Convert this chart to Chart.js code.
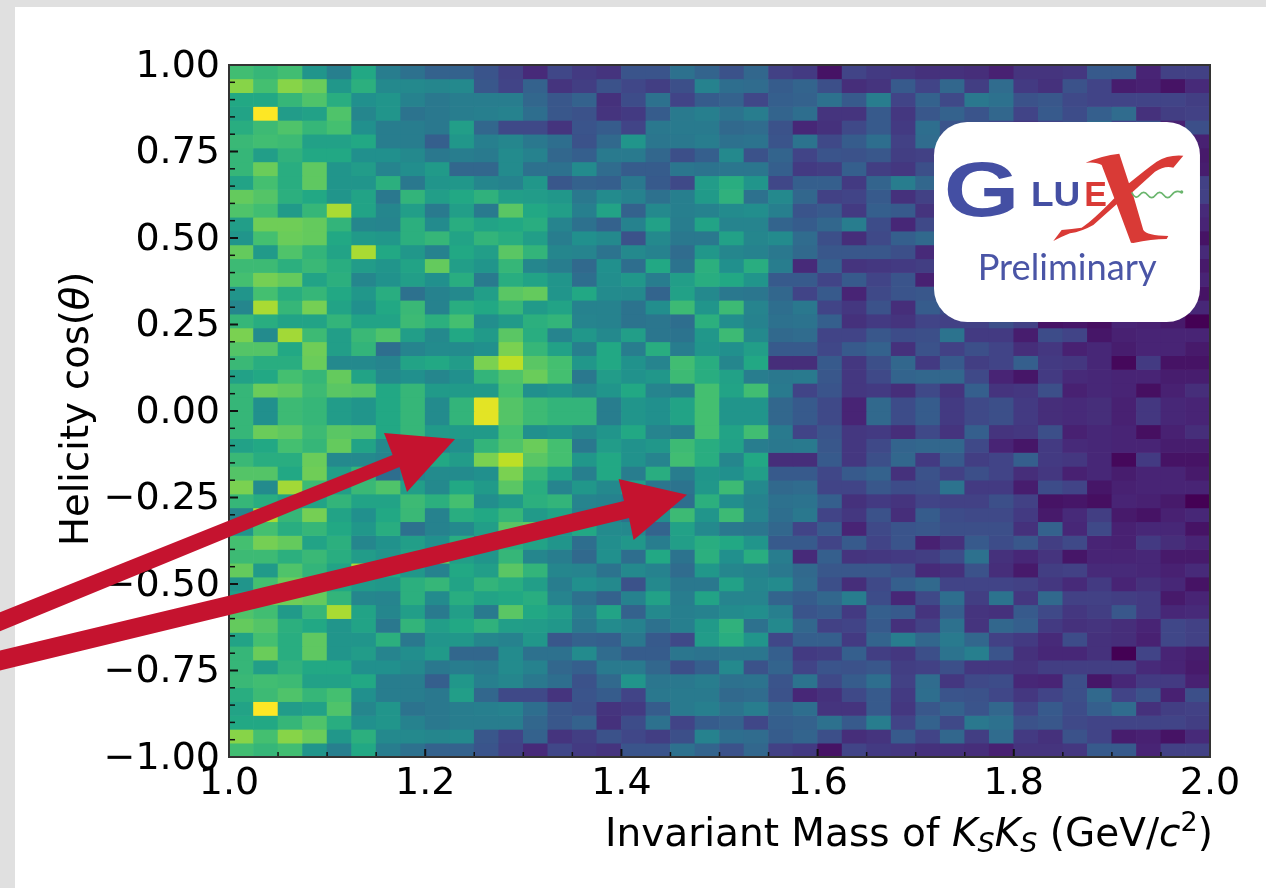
<!DOCTYPE html>
<html>
<head>
<meta charset="utf-8">
<title>Helicity cos(theta) vs KsKs mass</title>
<script src="https://cdn.jsdelivr.net/npm/chart.js@4/dist/chart.umd.min.js"></script>
<style>
    html, body { margin: 0; padding: 0; width: 1266px; height: 888px; overflow: hidden; background: #e0e0e0; }
    #sheet { position: absolute; left: 15px; top: 7px; right: 0; bottom: 0; background: #fff; }
    #plot { position: absolute; left: 0; top: 0; filter: blur(0.5px); }
    #overlay { position: absolute; left: 0; top: 0; filter: blur(0.4px); }
    .axis-text { font-family: "DejaVu Sans"; fill: #000; }
</style>
</head>
<body>
<div id="sheet"></div>
<canvas id="plot" width="1266" height="888"></canvas>
<svg id="overlay" width="1266" height="888" viewBox="0 0 1266 888">
    <text class="axis-text" font-size="39" x="605" y="846">Invariant Mass of <tspan font-style="italic">K</tspan><tspan font-style="italic" font-size="27" dy="6">S</tspan><tspan font-style="italic" dy="-6">K</tspan><tspan font-style="italic" font-size="27" dy="6">S</tspan><tspan dy="-6"> (GeV/</tspan><tspan font-style="italic">c</tspan><tspan font-size="27" dy="-15">2</tspan><tspan dy="15">)</tspan></text>
    <text class="axis-text" font-size="38.5" transform="translate(88,546) rotate(-90)">Helicity cos(<tspan font-style="italic">θ</tspan>)</text>

    <g transform="translate(925,115) scale(0.3333)">
        <rect x="27" y="21" width="798" height="600" rx="100" fill="#fff"/>
        <text transform="translate(56,302) scale(1.26,1)" font-family="Liberation Sans" font-weight="bold" font-size="232" fill="#444fa3">G</text>
        <text x="318" y="272" font-family="Liberation Sans" font-weight="bold" font-size="108" textLength="148" lengthAdjust="spacingAndGlyphs" fill="#444fa3">LU</text>
        <text x="478" y="272" font-family="Liberation Sans" font-weight="bold" font-size="108" textLength="68" lengthAdjust="spacingAndGlyphs" fill="#d93a36">E</text>
        <path fill="#d93a36" d="M482,143 Q530,122 583,116 L612,205 Q660,165 695,140 Q730,118 775,122 L745,158 Q720,150 690,170 L622,232 L655,345 Q665,362 730,363 L725,372 Q680,372 625,384 L618,383 L575,268 L505,330 Q470,350 435,355 Q410,365 385,378 L410,345 Q440,342 470,338 Q500,320 568,250 L530,150 Q515,140 482,143 Z"/>
        <path fill="none" stroke="#6ab56d" stroke-width="5" d="M620,232 Q632,256 644,240 T668,240 T692,240 T716,240 T740,240 T768,232"/>
        <circle cx="770" cy="231" r="5" fill="#6ab56d"/>
        <text x="158" y="496" font-family="Lato" font-size="108" textLength="537" lengthAdjust="spacingAndGlyphs" fill="#4a55a6">Preliminary</text>
    </g>

    <polygon fill="#c5132f" points="-2,613 392.6,455 384,433 455,439 407,492 399.5,467 -2,632"/>
    <polygon fill="#c5132f" points="-2,651 624,501 618.6,479 687,494.7 633.6,540 629,518 -2,671"/>
</svg>

<script>
// binning of the histogram
const massBinEdges = [1.000, 1.025, 1.050, 1.075, 1.100, 1.125, 1.150, 1.175, 1.200, 1.225,
    1.250, 1.275, 1.300, 1.325, 1.350, 1.375, 1.400, 1.425, 1.450, 1.475,
    1.500, 1.525, 1.550, 1.575, 1.600, 1.625, 1.650, 1.675, 1.700, 1.725,
    1.750, 1.775, 1.800, 1.825, 1.850, 1.875, 1.900, 1.925, 1.950, 1.975, 2.000];
const cosBinEdges = [1.00, 0.96, 0.92, 0.88, 0.84, 0.80, 0.76, 0.72, 0.68, 0.64,
    0.60, 0.56, 0.52, 0.48, 0.44, 0.40, 0.36, 0.32, 0.28, 0.24,
    0.20, 0.16, 0.12, 0.08, 0.04, 0.00, -0.04, -0.08, -0.12, -0.16,
    -0.20, -0.24, -0.28, -0.32, -0.36, -0.40, -0.44, -0.48, -0.52, -0.56,
    -0.60, -0.64, -0.68, -0.72, -0.76, -0.80, -0.84, -0.88, -0.92, -0.96, -1.00];

const xTicks = [1.0, 1.2, 1.4, 1.6, 1.8, 2.0];
const xTickLabels = ['1.0', '1.2', '1.4', '1.6', '1.8', '2.0'];
const xMinorTicks = [1.05, 1.1, 1.15, 1.25, 1.3, 1.35, 1.45, 1.5, 1.55, 1.65, 1.7, 1.75, 1.85, 1.9, 1.95];
const yTicks = [-1, -0.75, -0.5, -0.25, 0, 0.25, 0.5, 0.75, 1];
const yTickLabels = ['−1.00', '−0.75', '−0.50', '−0.25', '0.00', '0.25', '0.50', '0.75', '1.00'];
const yMinorTicks = [0.95, 0.9, 0.85, 0.8, 0.7, 0.65, 0.6, 0.55, 0.45, 0.4, 0.35, 0.3, 0.2, 0.15, 0.1, 0.05,
    -0.05, -0.1, -0.15, -0.2, -0.3, -0.35, -0.4, -0.45, -0.55, -0.6, -0.65, -0.7, -0.8, -0.85, -0.9, -0.95];

// bin contents, one row per cos bin from top to bottom (scale 0-100)
const binCounts = [
    [69,66,69,52,43,60,42,37,31,31,26,19,12,21,17,15,26,26,37,32,25,33,19,17,5,20,17,16,14,14,13,9,15,15,16,28,28,10,19,19],
    [82,70,82,77,53,63,47,47,46,47,27,20,31,15,18,25,21,18,24,44,36,35,29,32,24,13,15,28,20,33,18,35,17,14,25,20,8,9,5,12],
    [60,60,66,72,62,50,52,44,40,42,42,42,33,27,31,14,23,37,20,29,31,21,30,31,37,28,42,20,31,22,40,37,25,27,22,20,20,20,20,18],
    [58,100,55,57,72,46,52,38,40,42,43,44,36,27,25,15,17,29,41,43,38,42,32,36,15,15,28,16,27,31,26,33,20,28,23,30,35,14,18,19],
    [62,68,72,66,70,50,42,42,40,56,33,22,22,15,26,29,20,40,41,41,34,35,25,11,14,22,28,17,36,26,25,21,16,20,24,34,20,25,9,24],
    [67,69,68,57,57,60,42,42,30,53,43,46,40,36,25,34,52,39,40,42,37,38,26,38,22,29,36,19,35,16,22,23,11,10,24,6,11,17,17,9],
    [66,56,64,60,60,50,50,47,40,42,41,48,44,33,30,41,41,33,24,30,47,25,32,20,26,25,27,18,19,24,16,16,15,18,18,18,18,12,10,7],
    [66,77,62,75,52,55,45,49,54,33,33,48,37,37,48,35,29,29,39,38,39,39,30,17,18,30,18,16,24,38,43,26,14,11,11,14,0,20,10,8],
    [58,70,62,75,52,52,63,40,52,53,46,44,53,27,31,30,40,28,22,55,62,52,21,30,30,17,32,42,33,41,33,19,17,12,23,14,13,9,21,19],
    [76,73,63,60,52,58,40,65,56,60,64,56,55,53,40,48,44,37,43,54,64,37,47,33,19,20,28,14,19,37,15,33,30,17,14,15,13,10,21,19],
    [72,69,54,66,87,58,46,56,41,56,41,74,60,56,43,58,31,47,43,44,48,49,43,26,28,17,30,28,15,30,15,14,28,22,16,18,27,17,11,12],
    [56,78,78,76,65,46,45,63,48,62,58,60,62,45,37,31,44,57,42,58,45,45,32,29,33,42,23,11,22,36,18,38,16,34,19,19,18,17,7,10],
    [52,70,77,76,60,54,53,63,66,58,65,62,56,42,50,47,25,47,40,40,57,46,48,35,24,13,22,30,34,20,20,20,19,16,12,17,10,14,11,5],
    [76,54,72,65,58,87,60,53,44,60,56,74,65,46,45,38,47,44,35,53,46,44,40,34,27,27,27,24,12,14,25,13,7,18,19,12,12,11,9,12],
    [68,68,63,67,62,55,52,58,76,56,52,66,46,42,34,50,36,60,38,63,50,62,42,12,30,15,16,17,18,23,37,14,11,15,6,10,10,11,7,7],
    [70,79,76,58,63,46,51,56,50,62,41,62,58,52,36,49,53,42,56,62,60,52,28,28,20,28,20,26,9,14,28,23,27,18,22,10,9,17,13,10],
    [52,70,62,66,60,53,62,37,44,47,56,74,76,52,60,48,47,32,57,47,40,39,33,20,28,10,22,26,27,24,24,24,14,31,11,22,9,11,11,5],
    [46,87,66,79,58,50,60,67,44,62,60,66,54,58,44,44,38,49,68,52,68,45,36,40,20,16,25,13,29,23,22,22,17,7,12,18,7,5,9,11],
    [66,62,58,58,65,58,58,68,63,70,49,54,63,65,45,44,38,39,36,63,49,44,37,38,30,14,17,15,20,19,19,24,19,5,6,4,10,9,7,0],
    [80,48,86,68,56,67,72,56,47,60,54,74,62,45,53,47,56,39,38,53,68,47,34,35,20,20,27,23,24,38,17,17,8,23,20,6,9,10,10,10],
    [73,73,60,78,56,65,36,45,48,48,50,80,66,57,43,60,42,62,42,52,50,56,28,28,21,28,31,14,25,19,24,20,13,16,9,11,8,10,10,7],
    [67,62,62,77,47,47,45,58,60,55,80,90,74,70,53,60,51,45,69,62,46,60,13,13,28,16,24,33,17,28,18,20,30,17,16,11,2,17,5,5],
    [57,60,70,66,76,58,47,50,46,50,65,72,77,70,40,55,51,53,68,62,57,42,40,41,27,16,22,32,33,33,22,10,6,17,12,11,10,10,8,8],
    [66,77,75,68,74,73,60,66,54,54,54,70,50,52,47,52,60,45,43,70,58,69,41,20,26,16,17,13,22,15,30,15,16,24,9,11,10,4,9,13],
    [66,50,68,66,55,52,60,66,48,65,96,73,68,65,65,42,52,50,58,70,52,52,33,28,22,10,34,23,29,17,22,24,17,13,12,13,9,16,11,10],
    [66,50,68,66,55,52,60,66,48,65,96,73,68,65,65,42,52,50,58,70,52,52,33,28,22,10,34,23,29,17,22,24,17,13,12,13,9,16,11,10],
    [66,77,75,68,74,73,60,66,54,54,54,70,50,52,47,52,60,45,43,70,58,69,41,20,26,16,17,13,22,15,30,15,16,24,9,11,10,4,9,13],
    [57,60,70,66,76,58,47,50,46,50,65,72,77,70,40,55,51,53,68,62,57,42,40,41,27,16,22,32,33,33,22,10,6,17,12,11,10,10,8,8],
    [67,62,62,77,47,47,45,58,60,55,80,90,74,70,53,60,51,45,69,62,46,60,13,13,28,16,24,33,17,28,18,20,30,17,16,11,2,17,5,5],
    [73,73,60,78,56,65,36,45,48,48,50,80,66,57,43,60,42,62,42,52,50,56,28,28,21,28,31,14,25,19,24,20,13,16,9,11,8,10,10,7],
    [80,48,86,68,56,67,72,56,47,60,54,74,62,45,53,47,56,39,38,53,68,47,34,35,20,20,27,23,24,38,17,17,8,23,20,6,9,10,10,10],
    [66,62,58,58,65,58,58,68,63,70,49,54,63,65,45,44,38,39,36,63,49,44,37,38,30,14,17,15,20,19,19,24,19,5,6,4,10,9,7,0],
    [46,87,66,79,58,50,60,67,44,62,60,66,54,58,44,44,38,49,68,52,68,45,36,40,20,16,25,13,29,23,22,22,17,7,12,18,7,5,9,11],
    [52,70,62,66,60,53,62,37,44,47,56,74,76,52,60,48,47,32,57,47,40,39,33,20,28,10,22,26,27,24,24,24,14,31,11,22,9,11,11,5],
    [70,79,76,58,63,46,51,56,50,62,41,62,58,52,36,49,53,42,56,62,60,52,28,28,20,28,20,26,9,14,28,23,27,18,22,10,9,17,13,10],
    [68,68,63,67,62,55,52,58,76,56,52,66,46,42,34,50,36,60,38,63,50,62,42,12,30,15,16,17,18,23,37,14,11,15,6,10,10,11,7,7],
    [76,54,72,65,58,87,60,53,44,60,56,74,65,46,45,38,47,44,35,53,46,44,40,34,27,27,27,24,12,14,25,13,7,18,19,12,12,11,9,12],
    [52,70,77,76,60,54,53,63,66,58,65,62,56,42,50,47,25,47,40,40,57,46,48,35,24,13,22,30,34,20,20,20,19,16,12,17,10,14,11,5],
    [56,78,78,76,65,46,45,63,48,62,58,60,62,45,37,31,44,57,42,58,45,45,32,29,33,42,23,11,22,36,18,38,16,34,19,19,18,17,7,10],
    [72,69,54,66,87,58,46,56,41,56,41,74,60,56,43,58,31,47,43,44,48,49,43,26,28,17,30,28,15,30,15,14,28,22,16,18,27,17,11,12],
    [76,73,63,60,52,58,40,65,56,60,64,56,55,53,40,48,44,37,43,54,64,37,47,33,19,20,28,14,19,37,15,33,30,17,14,15,13,10,21,19],
    [58,70,62,75,52,52,63,40,52,53,46,44,53,27,31,30,40,28,22,55,62,52,21,30,30,17,32,42,33,41,33,19,17,12,23,14,13,9,21,19],
    [66,77,62,75,52,55,45,49,54,33,33,48,37,37,48,35,29,29,39,38,39,39,30,17,18,30,18,16,24,38,43,26,14,11,11,14,0,20,10,8],
    [66,56,64,60,60,50,50,47,40,42,41,48,44,33,30,41,41,33,24,30,47,25,32,20,26,25,27,18,19,24,16,16,15,18,18,18,18,12,10,7],
    [67,69,68,57,57,60,42,42,30,53,43,46,40,36,25,34,52,39,40,42,37,38,26,38,22,29,36,19,35,16,22,23,11,10,24,6,11,17,17,9],
    [62,68,72,66,70,50,42,42,40,56,33,22,22,15,26,29,20,40,41,41,34,35,25,11,14,22,28,17,36,26,25,21,16,20,24,34,20,25,9,24],
    [58,100,55,57,72,46,52,38,40,42,43,44,36,27,25,15,17,29,41,43,38,42,32,36,15,15,28,16,27,31,26,33,20,28,23,30,35,14,18,19],
    [60,60,66,72,62,50,52,44,40,42,42,42,33,27,31,14,23,37,20,29,31,21,30,31,37,28,42,20,31,22,40,37,25,27,22,20,20,20,20,18],
    [82,70,82,77,53,63,47,47,46,47,27,20,31,15,18,25,21,18,24,44,36,35,29,32,24,13,15,28,20,33,18,35,17,14,25,20,8,9,5,12],
    [69,66,69,52,43,60,42,37,31,31,26,19,12,21,17,15,26,26,37,32,25,33,19,17,5,20,17,16,14,14,13,9,15,15,16,28,28,10,19,19]
];

// viridis colour stops
const viridisStops = ['#440154', '#482475', '#414487', '#355f8d', '#2a788e', '#21908d',
    '#22a884', '#44bf70', '#7ad151', '#bddf26', '#fde725'];

function viridis(v) {
    const pos = Math.min(v / 100, 1) * (viridisStops.length - 1);
    const i = Math.min(Math.floor(pos), viridisStops.length - 2);
    const f = pos - i;
    const a = parseInt(viridisStops[i].slice(1), 16);
    const b = parseInt(viridisStops[i + 1].slice(1), 16);
    const mix = shift => Math.round(((a >> shift) & 255) * (1 - f) + ((b >> shift) & 255) * f);
    return `rgb(${mix(16)},${mix(8)},${mix(0)})`;
}

// each cos bin is one dataset of floating bars
const datasets = binCounts.map((row, r) => ({
    data: row.map((_, c) => ({
        x: (massBinEdges[c] + massBinEdges[c + 1]) / 2,
        y: [cosBinEdges[r + 1], cosBinEdges[r]]
    })),
    backgroundColor: row.map(viridis),
    borderWidth: 0,
    grouped: false,
    barPercentage: 1,
    categoryPercentage: 1
}));

// matplotlib style inward ticks and frame
const framePlugin = {
    id: 'frame',
    afterDatasetsDraw(chart) {
        const { ctx, chartArea: area, scales } = chart;
        const tick = (x1, y1, x2, y2) => {
            ctx.beginPath();
            ctx.moveTo(x1, y1);
            ctx.lineTo(x2, y2);
            ctx.stroke();
        };
        ctx.save();
        ctx.strokeStyle = '#111';
        ctx.lineWidth = 2;
        xTicks.forEach(v => {
            const px = scales.x.getPixelForValue(v);
            tick(px, area.bottom, px, area.bottom - 8);
        });
        yTicks.forEach(v => {
            const py = scales.y.getPixelForValue(v);
            tick(area.left, py, area.left + 9, py);
        });
        ctx.lineWidth = 1.5;
        xMinorTicks.forEach(v => {
            const px = scales.x.getPixelForValue(v);
            tick(px, area.bottom, px, area.bottom - 5);
        });
        yMinorTicks.forEach(v => {
            const py = scales.y.getPixelForValue(v);
            tick(area.left, py, area.left + 6, py);
        });
        ctx.strokeStyle = '#333';
        ctx.lineWidth = 2;
        ctx.strokeRect(area.left, area.top, area.right - area.left, area.bottom - area.top);
        ctx.restore();
    }
};

new Chart(document.getElementById('plot'), {
    type: 'bar',
    data: { datasets },
    options: {
        responsive: false,
        animation: false,
        devicePixelRatio: 1,
        layout: { padding: { top: 65, right: 56, left: 0, bottom: 0 } },
        plugins: { legend: { display: false }, tooltip: { enabled: false } },
        scales: {
            x: {
                type: 'linear',
                offset: false,
                min: 1,
                max: 2,
                grid: { display: false, drawTicks: false },
                border: { display: false },
                afterBuildTicks: scale => { scale.ticks = xTicks.map(value => ({ value })); },
                afterFit: scale => { scale.height = 131; },
                ticks: {
                    autoSkip: false,
                    maxRotation: 0,
                    padding: 4,
                    color: '#000',
                    font: { family: 'DejaVu Sans', size: 38 },
                    callback: (value, i) => xTickLabels[i]
                }
            },
            y: {
                type: 'linear',
                min: -1,
                max: 1,
                grid: { display: false, drawTicks: false },
                border: { display: false },
                afterBuildTicks: scale => { scale.ticks = yTicks.map(value => ({ value })); },
                afterFit: scale => { scale.width = 229; },
                ticks: {
                    autoSkip: false,
                    padding: 9,
                    labelOffset: 2,
                    color: '#000',
                    font: { family: 'DejaVu Sans', size: 38 },
                    callback: (value, i) => yTickLabels[i]
                }
            }
        }
    },
    plugins: [framePlugin]
});
</script>
</body>
</html>
